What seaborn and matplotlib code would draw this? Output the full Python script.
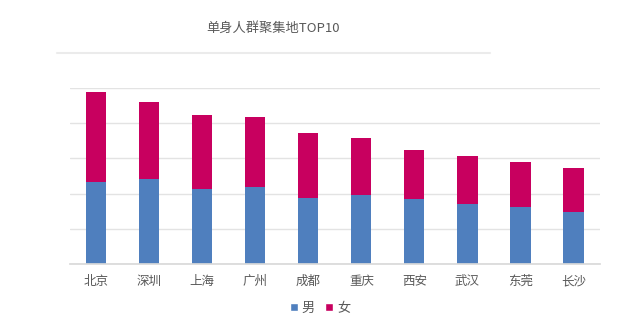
import matplotlib
matplotlib.use("Agg")
import matplotlib.pyplot as plt
import seaborn as sns
import pandas as pd
from matplotlib.patches import Patch
from matplotlib.lines import Line2D

cities = ["北京", "深圳", "上海", "广州", "成都", "重庆", "西安", "武汉", "东莞", "长沙"]
male = [2.34, 2.43, 2.12, 2.20, 1.89, 1.96, 1.84, 1.70, 1.63, 1.49]
female = [2.55, 2.18, 2.11, 1.97, 1.84, 1.63, 1.39, 1.36, 1.26, 1.25]
title = "单身人群聚集地TOP10"
legend_labels = ["男", "女"]

sns.set_theme(style="white")
plt.rcParams['font.family'] = ['Noto Sans CJK SC', 'DejaVu Sans']

blue = "#4F7FBE"
pink = "#C8005F"

df = pd.DataFrame({"city": cities, "male": male, "female": female})
df["total"] = df["male"] + df["female"]

fig = plt.figure(figsize=(6.4, 3.26), dpi=100)
ax = fig.add_axes([0.109, 0.190, 0.8285, 0.540])

sns.barplot(data=df, x="city", y="total", color=pink, width=0.38, ax=ax,
            saturation=1, edgecolor="none")
sns.barplot(data=df, x="city", y="male", color=blue, width=0.38, ax=ax,
            saturation=1, edgecolor="none")

ax.set_ylim(0, 5)
ax.set_xlim(-0.5, len(cities) - 0.5)
ax.set_yticks([0, 1, 2, 3, 4, 5])
ax.set_yticklabels([])
ax.yaxis.grid(True, color="#E3E3E3", linewidth=1)
ax.set_axisbelow(True)
for s in ["top", "right", "left"]:
    ax.spines[s].set_visible(False)
ax.spines["bottom"].set_color("#D9D9D9")
ax.set_xlabel("")
ax.set_ylabel("")
ax.tick_params(axis="x", length=0, pad=8, labelsize=9, labelcolor="#595959")
ax.tick_params(axis="y", length=0)

fig.text(0.427, 0.912, title, ha="center", va="center", fontsize=9.5, color="#595959")
fig.add_artist(Line2D([0.089, 0.766], [0.837, 0.837], color="#EBEBEB", linewidth=1.5,
                      transform=fig.transFigure))

handles = [Patch(facecolor=blue, label=legend_labels[0]),
           Patch(facecolor=pink, label=legend_labels[1])]
fig.legend(handles=handles, loc="center", bbox_to_anchor=(0.5, 0.055), ncol=2,
           frameon=False, fontsize=9.5, handlelength=0.6, handleheight=0.6,
           handletextpad=0.3, columnspacing=0.8, labelcolor="#595959")

fig.savefig("out.png", dpi=100)
